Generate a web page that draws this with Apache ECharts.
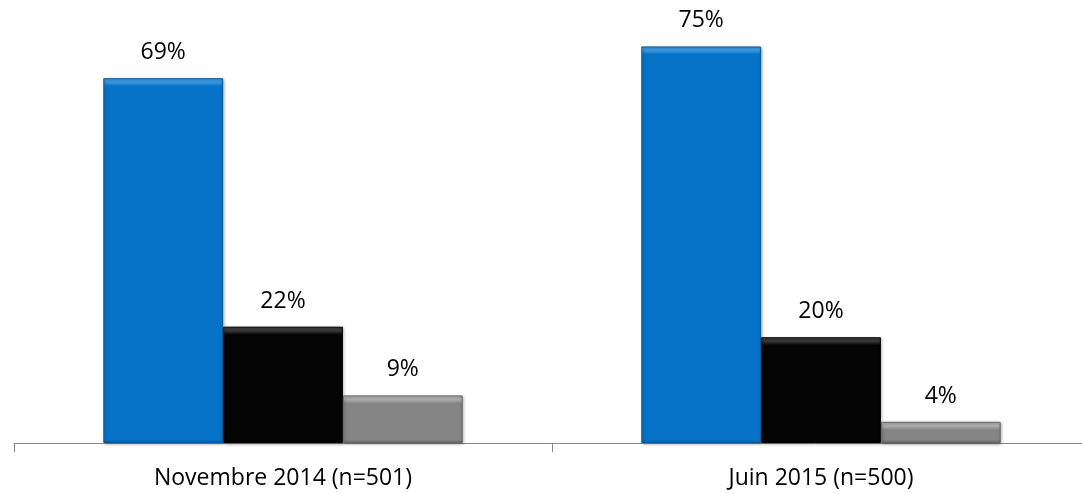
<!DOCTYPE html>
<html><head><meta charset="utf-8">
<script src="https://cdn.jsdelivr.net/npm/echarts@6/dist/echarts.min.js"></script>
<style>html,body{margin:0;padding:0;background:#fff}#c{width:1082px;height:493px}</style>
</head><body><div id="c"></div>
<script>
const categories = ['Novembre 2014 (n=501)', 'Juin 2015 (n=500)'];
const seriesBlue = [69, 75];
const seriesBlack = [22, 20];
const seriesGray = [9, 4];

const PX_PER_UNIT = 423 / 80;
function bevelData(values, base, light, dark) {
  return values.map(v => {
    const h = v * PX_PER_UNIT;
    const t = Math.min(0.45, 8 / h);
    const b = Math.max(0.55, 1 - 3 / h);
    return {
      value: v,
      itemStyle: {
        color: new echarts.graphic.LinearGradient(0, 0, 0, 1, [
          {offset: 0, color: light}, {offset: t * 0.5, color: light}, {offset: t, color: base},
          {offset: b, color: base}, {offset: 1, color: dark}
        ]),
        borderColor: dark, borderWidth: 1,
        shadowColor: 'rgba(0,0,0,0.35)', shadowBlur: 3, shadowOffsetX: 1, shadowOffsetY: 1
      }
    };
  });
}
const label = {show: true, position: 'top', distance: 14, color: '#000', fontSize: 23, fontFamily: 'Open Sans', formatter: '{c}%'};
const chart = echarts.init(document.getElementById('c'));
chart.setOption({
  animation: false,
  grid: {left: 14, width: 1076, top: 20, bottom: 50, containLabel: false, outerBoundsMode: 'none'},
  xAxis: {
    type: 'category', data: categories,
    axisLine: {lineStyle: {color: '#888', width: 1}},
    axisTick: {show: true, length: 9, lineStyle: {color: '#888'}},
    axisLabel: {color: '#000', fontSize: 23, fontFamily: 'Open Sans', margin: 24}
  },
  yAxis: {type: 'value', min: 0, max: 80, show: false, splitLine: {show: false}},
  series: [
    {type: 'bar', data: bevelData(seriesBlue, '#0673C8', '#3a9ae2', '#045a9c'), barGap: '0%', barCategoryGap: '33.2%', label},
    {type: 'bar', data: bevelData(seriesBlack, '#040404', '#3a3a3a', '#000'), label},
    {type: 'bar', data: bevelData(seriesGray, '#858585', '#b0b0b0', '#666'), label}
  ]
});
</script></body></html>
